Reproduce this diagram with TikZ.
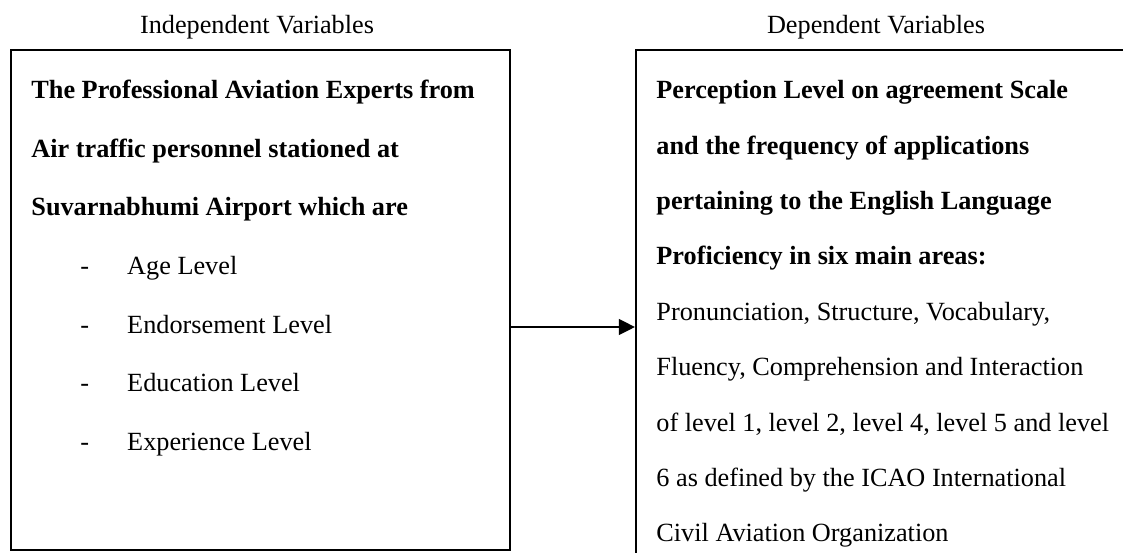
\documentclass[tikz,border=0pt]{standalone}
\usepackage{fontspec}
\setmainfont{Liberation Serif}
\usetikzlibrary{arrows.meta}
\usetikzlibrary{positioning}

\newcommand{\varitem}[1]{\hspace*{23.5pt}\makebox[22.5pt][l]{-}#1}

\begin{document}
\begin{tikzpicture}[x=0.48pt, y=-0.48pt, >={Triangle[length=7.7pt, width=7.5pt]},
  font=\fontsize{12.6}{26.6}\selectfont,
  varbox/.style={draw, line width=1pt, inner sep=0pt, anchor=north west},
  vartext/.style={anchor=north west, align=left, inner sep=0pt}]
  \useasboundingbox (0,0) rectangle (1123,552);
  \clip (0,0) rectangle (1123,552);

  % Independent variables
  \node[varbox, minimum width=239.5pt, minimum height=240pt] (indep) at (10,49) {};
  \node[anchor=base] (indeplabel) at (257,33) {Independent Variables};
  \node[vartext, font=\fontsize{12.6}{28.1}\selectfont] (indeptext) at (31,80) {%
    \textbf{The Professional Aviation Experts from}\\
    \textbf{Air traffic personnel stationed at}\\
    \textbf{Suvarnabhumi Airport which are}\\
    \varitem{Age Level}\\
    \varitem{Endorsement Level}\\
    \varitem{Education Level}\\
    \varitem{Experience Level}};

  % Dependent variables (box runs off the page)
  \node[varbox, minimum width=250pt, minimum height=270pt] (dep) at (635,49) {};
  \node[anchor=base] (deplabel) at (876,33) {Dependent Variables};
  \node[vartext] (deptext) at (656,80) {%
    \textbf{Perception Level on agreement Scale}\\
    \textbf{and the frequency of applications}\\
    \textbf{pertaining to the English Language}\\
    \textbf{Proficiency in six main areas:}\\
    Pronunciation, Structure, Vocabulary,\\
    Fluency, Comprehension and Interaction\\
    of level 1, level 2, level 4, level 5 and level\\
    6 as defined by the ICAO International\\
    Civil Aviation Organization};

  \coordinate (arrowy) at (0,327);
  \draw[->, line width=1pt] (indep.east |- arrowy) -- (dep.west |- arrowy);
\end{tikzpicture}
\end{document}
